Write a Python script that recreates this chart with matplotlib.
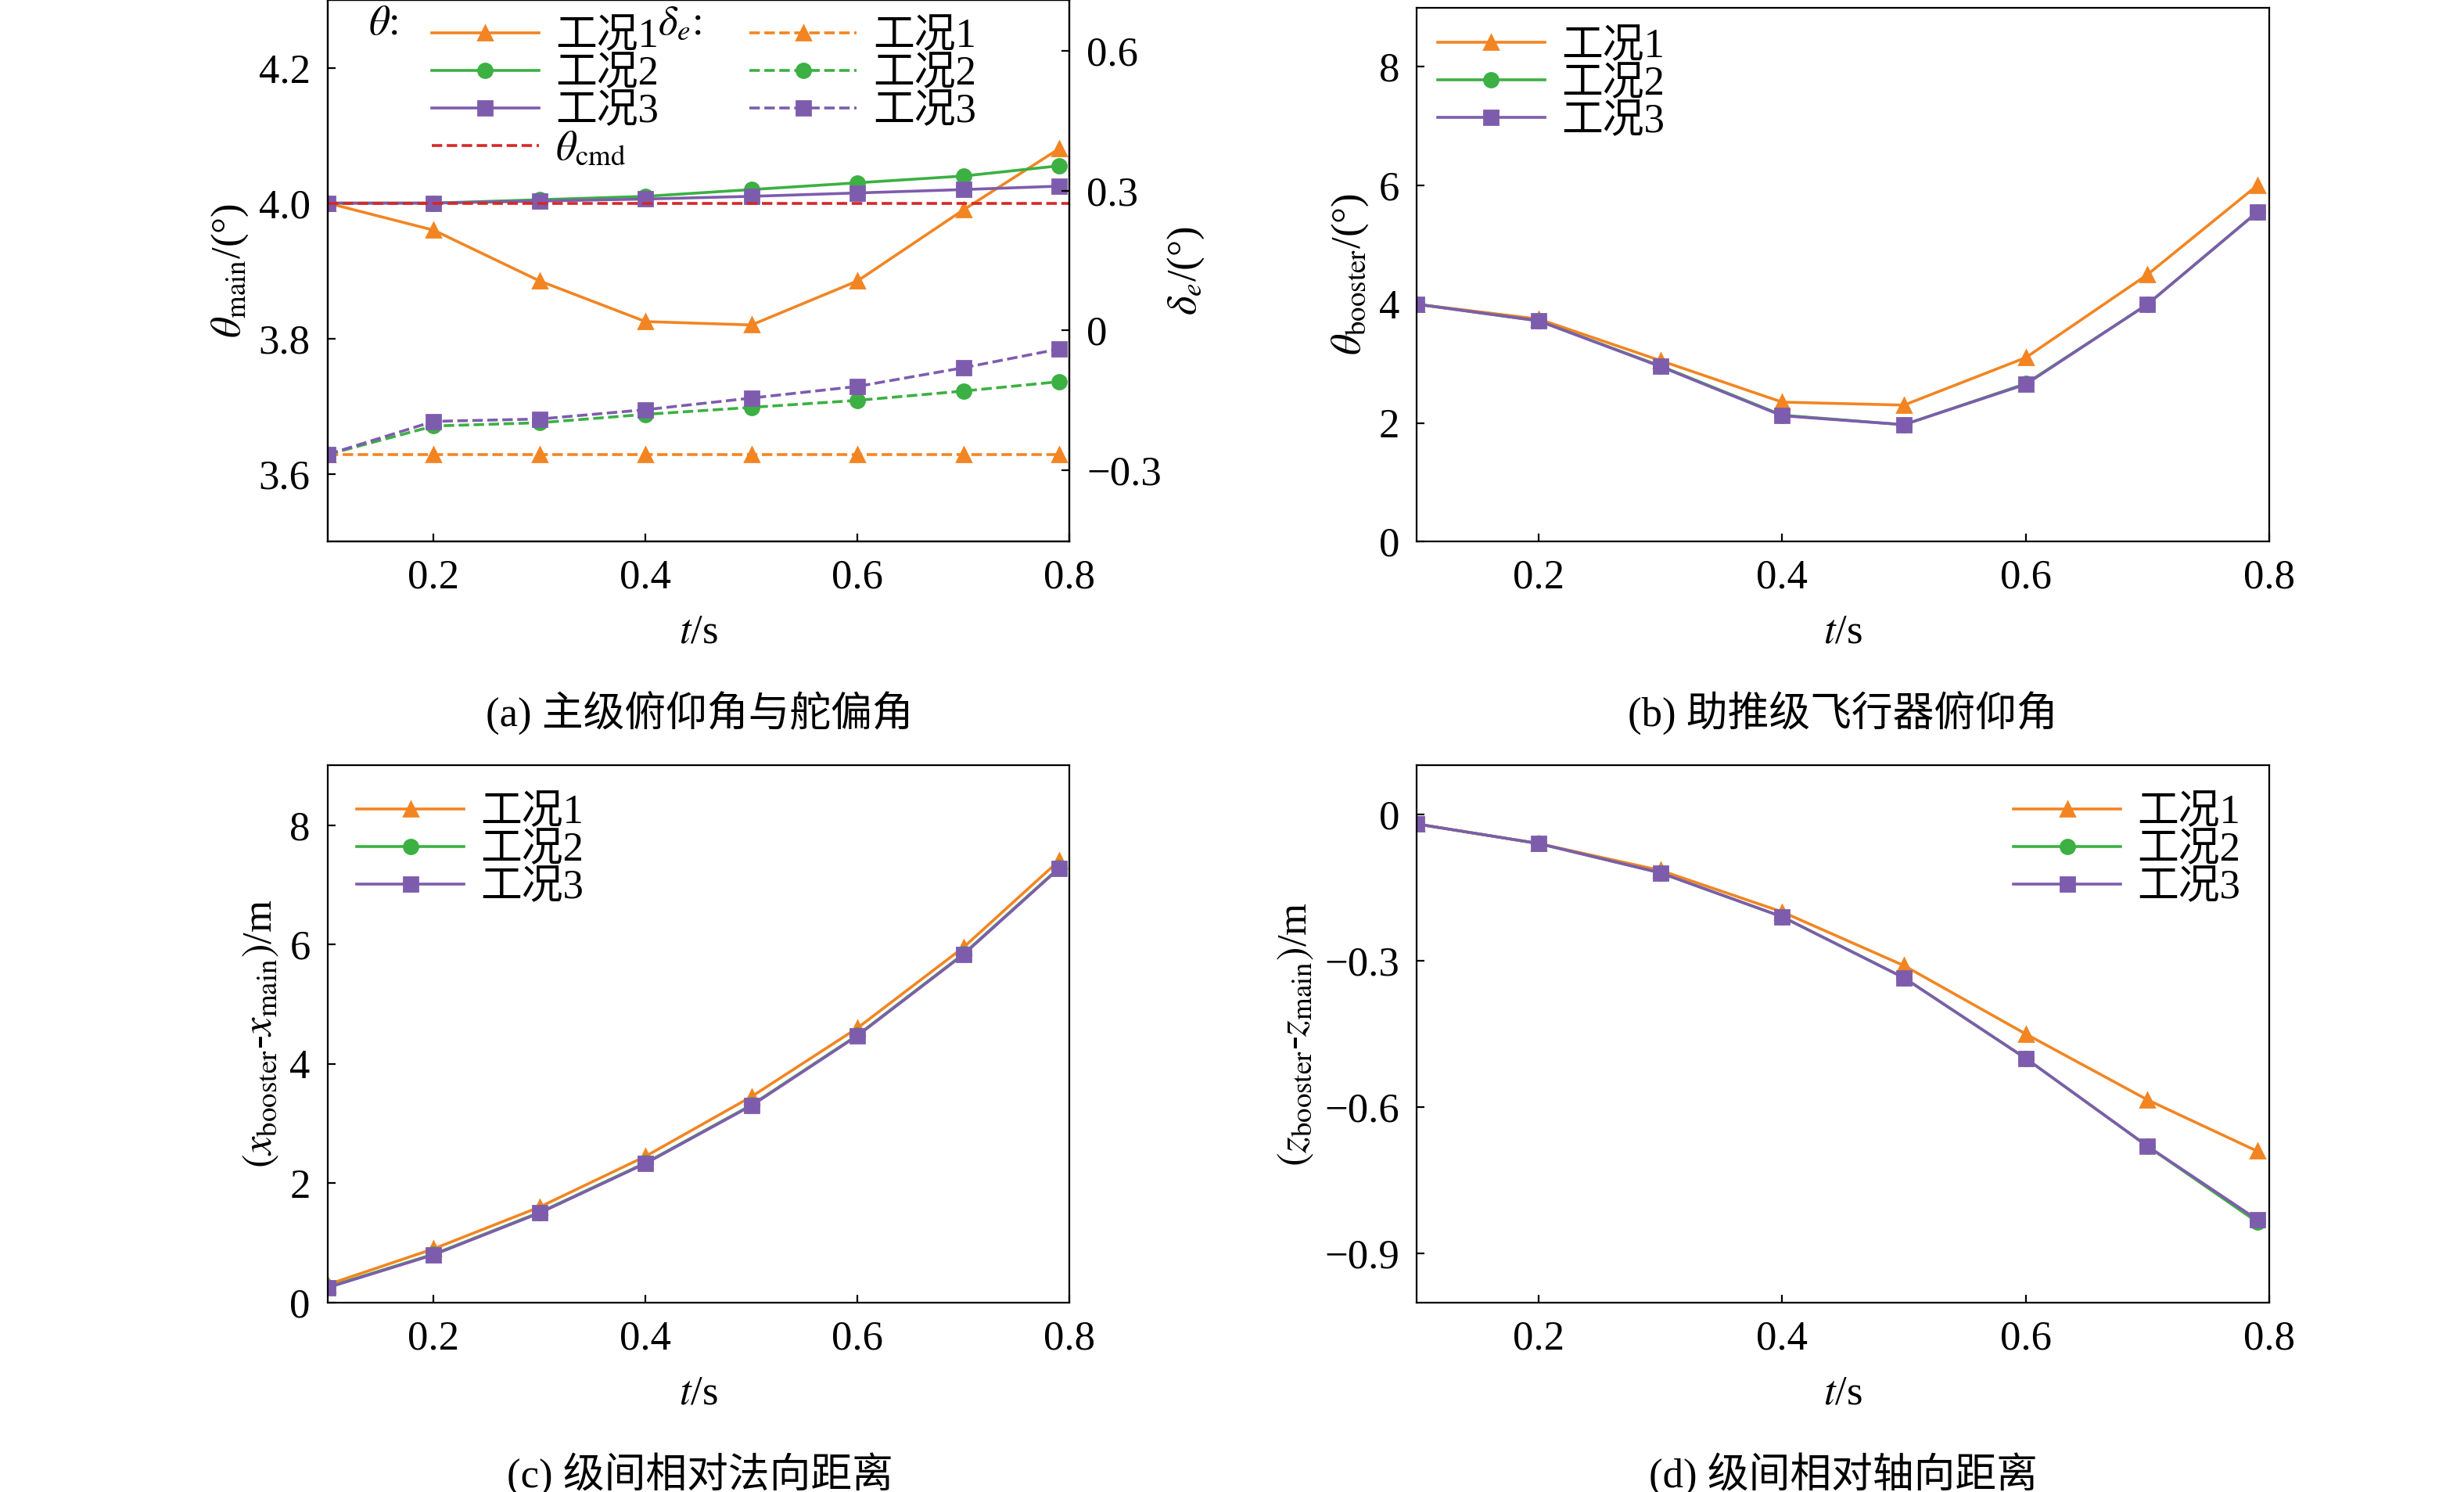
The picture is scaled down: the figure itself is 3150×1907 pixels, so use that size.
import matplotlib
matplotlib.use("Agg")
import matplotlib.pyplot as plt
from matplotlib.lines import Line2D

plt.rcParams['font.family'] = ['Liberation Serif', 'Noto Sans CJK SC']
plt.rcParams['mathtext.fontset'] = 'stix'
plt.rcParams['font.size'] = 19
plt.rcParams['xtick.direction'] = 'in'
plt.rcParams['ytick.direction'] = 'in'
plt.rcParams['xtick.major.pad'] = 8
plt.rcParams['ytick.major.pad'] = 8

t = [0.1, 0.2, 0.3, 0.4, 0.5, 0.6, 0.7, 0.79]
theta1 = [4.0, 3.96, 3.885, 3.825, 3.82, 3.885, 3.99, 4.08]
theta2 = [4.0, 4.0, 4.005, 4.01, 4.02, 4.03, 4.04, 4.055]
theta3 = [4.0, 4.0, 4.003, 4.006, 4.01, 4.015, 4.02, 4.025]
theta_cmd = 4.0
de1 = [-0.266] * 8
de2 = [-0.266, -0.205, -0.198, -0.18, -0.165, -0.15, -0.13, -0.11]
de3 = [-0.266, -0.195, -0.19, -0.17, -0.145, -0.12, -0.08, -0.04]
tb1 = [4.0, 3.75, 3.05, 2.35, 2.3, 3.1, 4.5, 6.0]
tb2 = [4.0, 3.72, 2.96, 2.13, 1.97, 2.66, 4.0, 5.55]
tb3 = [4.0, 3.72, 2.95, 2.12, 1.97, 2.65, 4.0, 5.55]
dx1 = [0.3, 0.9, 1.6, 2.45, 3.45, 4.6, 5.95, 7.4]
dx2 = [0.26, 0.81, 1.51, 2.34, 3.31, 4.48, 5.84, 7.28]
dx3 = [0.25, 0.8, 1.5, 2.33, 3.3, 4.47, 5.83, 7.27]
dz1 = [-0.02, -0.06, -0.115, -0.2, -0.31, -0.45, -0.585, -0.69]
dz2 = [-0.02, -0.06, -0.12, -0.21, -0.335, -0.5, -0.68, -0.835]
dz3 = [-0.02, -0.06, -0.12, -0.21, -0.335, -0.5, -0.68, -0.83]
labels = ['工况1', '工况2', '工况3']
colors = ['#F28522', '#3CB043', '#7E5CAD']
markers = ['^', 'o', 's']
ms = 6.5

fig = plt.figure(figsize=(15.75, 9.535), dpi=200)
axa = fig.add_axes([0.133, 0.637, 0.301, 0.363])
axb = fig.add_axes([0.575, 0.637, 0.346, 0.358])
axc = fig.add_axes([0.133, 0.127, 0.301, 0.360])
axd = fig.add_axes([0.575, 0.127, 0.346, 0.360])

def style(ax):
    ax.set_xlim(0.1, 0.8)
    ax.set_xticks([0.2, 0.4, 0.6, 0.8])
    ax.set_xlabel('$t$/s', labelpad=8)

# (a)
for y, c, m, l in zip([theta1, theta2, theta3], colors, markers, labels):
    axa.plot(t, y, color=c, marker=m, ms=ms, lw=1.3, label=l)
axa.axhline(theta_cmd, color='#D62728', ls='--', lw=1.3)
axa.set_ylim(3.5, 4.3)
axa.set_yticks([3.6, 3.8, 4.0, 4.2])
axa.set_ylabel(r'$\theta_{\rm main}$/(°)')
style(axa)
axr = axa.twinx()
for y, c, m in zip([de1, de2, de3], colors, markers):
    axr.plot(t, y, color=c, marker=m, ms=ms, lw=1.3, ls='--')
axr.set_ylim(-0.453, 0.709)
axr.set_yticks([-0.3, 0, 0.3, 0.6])
axr.set_yticklabels(['−0.3', '0', '0.3', '0.6'])
axr.tick_params(direction='in', pad=8)
axr.set_ylabel(r'$\delta_e$/(°)', labelpad=2)
h1 = [Line2D([], [], color=c, marker=m, ms=ms, lw=1.3) for c, m in zip(colors, markers)]
h1.append(Line2D([], [], color='#D62728', ls='--', lw=1.3))
h2 = [Line2D([], [], color=c, marker=m, ms=ms, lw=1.3, ls='--') for c, m in zip(colors, markers)]
h2.append(Line2D([], [], color='none'))
axa.legend(h1 + h2, labels + [r'$\theta_{\rm cmd}$'] + labels + [''], ncol=2,
           frameon=False, loc='upper left', bbox_to_anchor=(0.09, 1.035),
           handlelength=2.6, handletextpad=0.4, columnspacing=2.2,
           labelspacing=0.0, fontsize=19)
axa.text(0.055, 0.99, r'$\theta$:', transform=axa.transAxes, va='top', fontsize=19)
axa.text(0.445, 0.99, r'$\delta_e$:', transform=axa.transAxes, va='top', fontsize=19)

# (b)
for y, c, m, l in zip([tb1, tb2, tb3], colors, markers, labels):
    axb.plot(t, y, color=c, marker=m, ms=ms, lw=1.3, label=l)
axb.set_ylim(0, 9)
axb.set_yticks([0, 2, 4, 6, 8])
axb.set_ylabel(r'$\theta_{\rm booster}$/(°)')
style(axb)
axb.legend(frameon=False, loc='upper left', labelspacing=0.0, handlelength=2.6,
           handletextpad=0.4, borderaxespad=0.1)

# (c)
for y, c, m, l in zip([dx1, dx2, dx3], colors, markers, labels):
    axc.plot(t, y, color=c, marker=m, ms=ms, lw=1.3, label=l)
axc.set_ylim(0, 9)
axc.set_yticks([0, 2, 4, 6, 8])
axc.set_ylabel(r'$(x_{\rm booster}$-$x_{\rm main})$/m')
style(axc)
axc.legend(frameon=False, loc='upper left', labelspacing=0.0, handlelength=2.6,
           handletextpad=0.4, borderaxespad=0.3)

# (d)
for y, c, m, l in zip([dz1, dz2, dz3], colors, markers, labels):
    axd.plot(t, y, color=c, marker=m, ms=ms, lw=1.3, label=l)
axd.set_ylim(-1.0, 0.1)
axd.set_yticks([-0.9, -0.6, -0.3, 0])
axd.set_yticklabels(['−0.9', '−0.6', '−0.3', '0'])
axd.set_ylabel(r'$(z_{\rm booster}$-$z_{\rm main})$/m')
style(axd)
axd.legend(frameon=False, loc='upper right', labelspacing=0.0, handlelength=2.6,
           handletextpad=0.4, borderaxespad=0.3)

fig.text(0.284, 0.513, '(a) 主级俯仰角与舵偏角', ha='center', fontsize=19)
fig.text(0.748, 0.513, '(b) 助推级飞行器俯仰角', ha='center', fontsize=19)
fig.text(0.284, 0.003, '(c) 级间相对法向距离', ha='center', fontsize=19)
fig.text(0.748, 0.003, '(d) 级间相对轴向距离', ha='center', fontsize=19)

fig.savefig('out.png', dpi=200)
